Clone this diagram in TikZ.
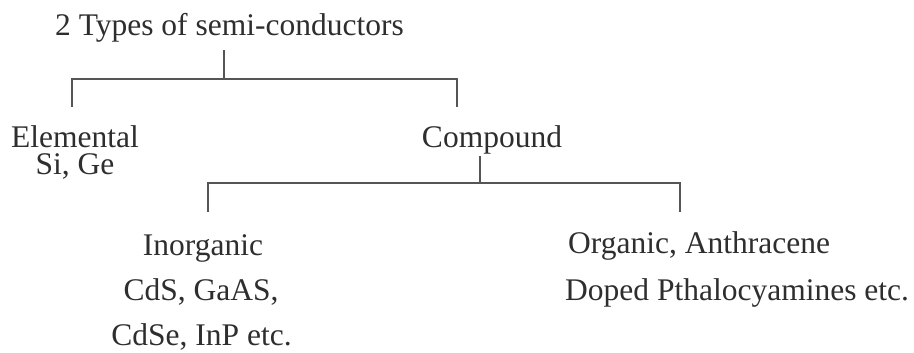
\documentclass[tikz,border=0pt]{standalone}
\usepackage{fontspec}
\setmainfont{Liberation Serif}
\definecolor{txt}{HTML}{2E2E2E}
\definecolor{ln}{HTML}{555555}
\begin{document}
\begin{tikzpicture}[x=1pt,y=-1pt,
  lbl/.style={inner sep=0pt,text=txt,font=\fontsize{31.5}{36}\selectfont},
  conn/.style={draw=ln,line width=1.5pt}]
\useasboundingbox (0,0) rectangle (914,353);
% texts
\node[lbl,anchor=base] (title) at (229.5,36) {2 Types of semi-conductors};
\node[lbl,anchor=base,align=center,font=\fontsize{31.5}{28}\selectfont] (elem) at (75,175) {Elemental\\Si, Ge\hspace{0.4em}};
\node[lbl,anchor=base] (comp) at (492,147) {Compound};
\node[lbl,anchor=base] (inorg) at (203,255) {Inorganic};
\node[lbl,anchor=base] (cds) at (201,300) {CdS, GaAS,};
\node[lbl,anchor=base] (cdse) at (201.5,345) {CdSe, InP etc.};
\node[lbl,anchor=base west] (org) at (568,253) {Organic, Anthracene};
\node[lbl,anchor=base west] (doped) at (565,300) {Doped Pthalocyamines etc.};
% junction coordinates
\coordinate (t0) at (224,50);
\coordinate (t1) at (224,79);
\coordinate (tl) at (72,79);
\coordinate (tr) at (457,79);
\coordinate (el) at (72,107);
\coordinate (cr) at (457,107);
\coordinate (c0) at (480,156);
\coordinate (c1) at (480,183);
\coordinate (cl) at (208,183);
\coordinate (crr) at (680,183);
\coordinate (il) at (208,212);
\coordinate (or) at (680,212);
% connectors
\draw[conn] (t0) -- (t1);
\draw[conn] (el) -- (tl) -- (tr) -- (cr);
\draw[conn] (c0) -- (c1);
\draw[conn] (il) -- (cl) -- (crr) -- (or);
\end{tikzpicture}
\end{document}
